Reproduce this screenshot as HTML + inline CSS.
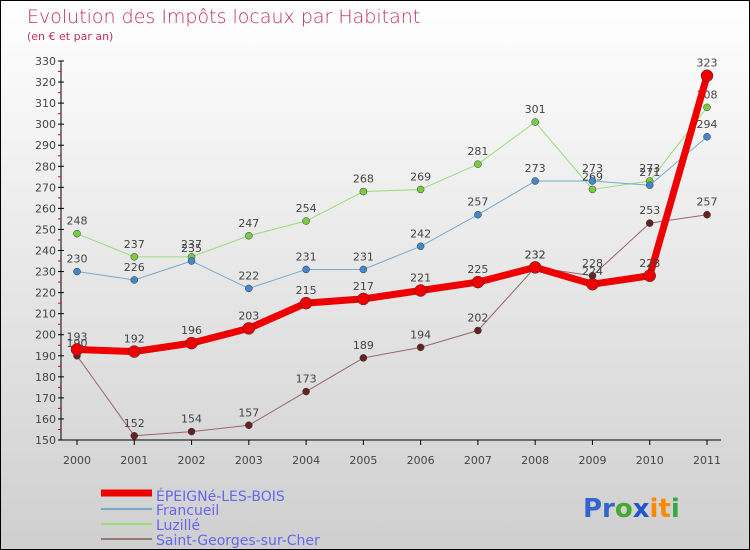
<!DOCTYPE html>
<html><head><meta charset="utf-8"><style>
body{margin:0}
#c{width:750px;height:550px;position:relative;box-sizing:border-box;border:1px solid #000;background:linear-gradient(#ffffff,#cfcfcf);font-family:"DejaVu Sans","Liberation Sans",sans-serif;overflow:hidden}
</style></head><body>
<div id="c">
<svg id="s" width="750" height="550" style="position:absolute;left:0;top:0">
<text x="26" y="22" font-size="19" fill="#c0305a" font-weight="300">Evolution des Impôts locaux par Habitant</text>
<text x="26" y="39" font-size="11" fill="#c0305a">(en € et par an)</text>
<g id="axes"></g><g id="series"></g>
<g>
<line x1="100" y1="492" x2="151" y2="492" stroke="#ee0000" stroke-width="7"/>
<text x="155" y="500" font-size="14" fill="#6666ee">ÉPEIGNé-LES-BOIS</text>
<line x1="100" y1="508" x2="151" y2="508" stroke="#77aacc" stroke-width="2"/>
<text x="155" y="514" font-size="14" fill="#6666ee">Francueil</text>
<line x1="100" y1="523" x2="151" y2="523" stroke="#99dd77" stroke-width="2"/>
<text x="155" y="529" font-size="14" fill="#6666ee">Luzillé</text>
<line x1="100" y1="538" x2="151" y2="538" stroke="#997777" stroke-width="2"/>
<text x="155" y="544" font-size="14" fill="#6666ee">Saint-Georges-sur-Cher</text>
</g>
<text x="582" y="516" font-size="26" font-weight="bold"><tspan fill="#3366cc">Pr</tspan><tspan fill="#44aa33">o</tspan><tspan fill="#2255cc">x</tspan><tspan fill="#ff8800">it</tspan><tspan fill="#33aa44">i</tspan></text>
</svg>
</div>
<script>
const years=["2000","2001","2002","2003","2004","2005","2006","2007","2008","2009","2010","2011"];
const yTicks=[150,160,170,180,190,200,210,220,230,240,250,260,270,280,290,300,310,320,330];
const epeigne=[193,192,196,203,215,217,221,225,232,224,228,323];
const francueil=[230,226,235,222,231,231,242,257,273,273,271,294];
const luzille=[248,237,237,247,254,268,269,281,301,269,273,308];
const saintGeorges=[190,152,154,157,173,189,194,202,232,228,253,257];
const NS="http://www.w3.org/2000/svg";
function X(i){return 76+i*(630/11);}
function Y(v){return 439-(v-150)*(379/180);}
function mk(tag,attrs,parent){const e=document.createElementNS(NS,tag);for(const k in attrs)e.setAttribute(k,attrs[k]);parent.appendChild(e);return e;}
const ax=document.getElementById('axes');
const yl=mk('line',{x1:60,y1:Y(330),x2:60,y2:Y(150),stroke:'#000'},ax);


const xl=mk('line',{x1:60,y1:439,x2:720,y2:439,stroke:'#000'},ax);


yTicks.forEach(v=>{
 mk('line',{x1:57,y1:Y(v),x2:63,y2:Y(v),stroke:'#000'},ax);
 if(v<330)mk('line',{x1:57,y1:Y(v+5),x2:60,y2:Y(v+5),stroke:'#e00'},ax);
 const t=mk('text',{x:55,y:Y(v)+4,'font-size':11,fill:'#444','text-anchor':'end'},ax);t.textContent=v;
 
 
});
years.forEach((y,i)=>{
 mk('line',{x1:X(i),y1:439,x2:X(i),y2:444,stroke:'#000'},ax);
 const t=mk('text',{x:X(i),y:463,'font-size':11,fill:'#444','text-anchor':'middle'},ax);t.textContent=y;
 
 
});
const sg=document.getElementById('series');
function series(data,color,dot,w,r,name){
 const g=mk('g',{},sg);
 
 
 mk('polyline',{points:data.map((v,i)=>X(i)+','+Y(v)).join(' '),fill:'none',stroke:color,'stroke-width':w,'stroke-linejoin':'round'},g);
 data.forEach((v,i)=>{
  const c=mk('circle',{cx:X(i),cy:Y(v),r:r,fill:dot,stroke:'#333','stroke-width':0.5},g);
  
  
  const t=mk('text',{x:X(i),y:Y(v)-9,'font-size':11,fill:'#444','text-anchor':'middle'},g);t.textContent=v;
  
  
 });
}
series(saintGeorges,'#996666','#662222',1,3.5,'series-saint-georges');
series(luzille,'#99dd77','#77cc44',1,3.5,'series-luzille');
series(francueil,'#77aacc','#4488cc',1,3.5,'series-francueil');
series(epeigne,'#ee0000','#ee0000',7,6,'series-epeigne');
</script>
</body></html>
